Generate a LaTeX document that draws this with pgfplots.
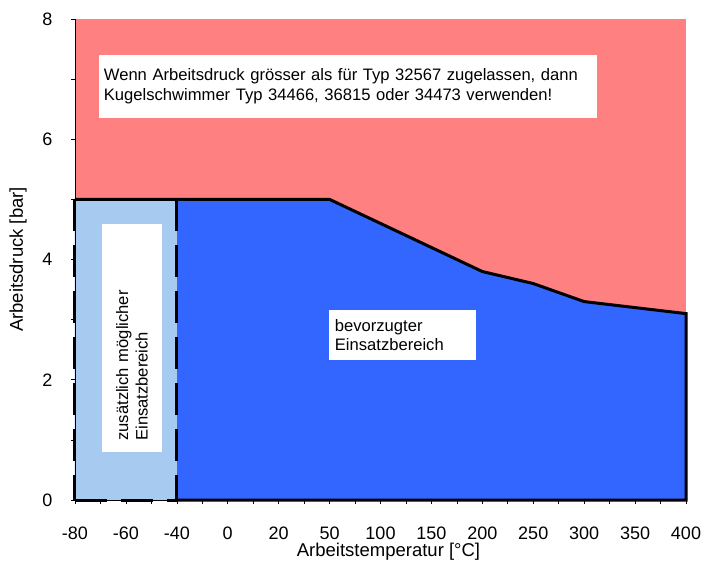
\documentclass[border=0pt]{standalone}
\usepackage{pgfplots}
\pgfplotsset{compat=1.18}
\usepackage{fontspec}
\setmainfont{Liberation Sans}
\definecolor{myred}{HTML}{FF8080}
\definecolor{myblue}{HTML}{3366FF}
\definecolor{mylight}{HTML}{A6CAF0}
\newcommand\myfs{\fontsize{16.6bp}{19.5bp}\selectfont}
\newcommand\tickfs{\fontsize{18bp}{21bp}\selectfont}
\newcommand\labfs{\fontsize{18.5bp}{21bp}\selectfont}
\begin{document}
\begin{tikzpicture}[font=\myfs]
\begin{axis}[
  scale only axis, width=611bp, height=481bp,
  xmin=0, xmax=12, ymin=0, ymax=8,
  axis lines*=left,
  axis on top,
  clip=false,
  xtick={0,...,12},
  xticklabels={-80,-60,-40,0,20,50,100,150,200,250,300,350,400},
  minor x tick num=1,
  ytick={0,2,4,6,8}, minor y tick num=1,
  tick align=outside, major tick length=4bp, minor tick length=4bp,
  tick style={black, line width=0.6bp},
  axis line style={black, line width=0.8bp},
  /pgf/number format/assume math mode=true,
  tick label style={font=\tickfs},
  xticklabel style={yshift=-19bp},
  yticklabel style={xshift=-15bp},
  xlabel={Arbeitstemperatur [°C]},
  ylabel={Arbeitsdruck [bar]},
  every axis x label/.style={at={(axis description cs:0.5,0)}, anchor=center, yshift=-52bp, xshift=8bp, font=\labfs},
  every axis y label/.style={at={(axis description cs:0,0.5)}, anchor=center, xshift=-57bp, rotate=90, font=\labfs},
]
\addplot[fill=myred, draw=none] coordinates {(0,0) (0,8) (12,8) (12,0)} -- cycle;
\addplot[fill=myblue, draw=none] coordinates {(0,0) (0,5) (5,5) (6,4.6) (7,4.2) (8,3.8) (9,3.6) (10,3.3) (11,3.2) (12,3.1) (12,0)} -- cycle;
\addplot[fill=mylight, draw=none] coordinates {(0,0) (0,5) (2,5) (2,0)} -- cycle;
\addplot[black, line width=3bp, dash pattern=on 32bp off 14bp] coordinates {(0,5) (0,0)};
\addplot[black, line width=3bp, dash pattern=on 32bp off 14bp] coordinates {(0,0) (2,0)};
\addplot[black, line width=3bp, dash pattern=on 32bp off 14bp] coordinates {(2,5) (2,0)};
\addplot[black, line width=3bp] coordinates {(0,5) (5,5) (6,4.6) (7,4.2) (8,3.8) (9,3.6) (10,3.3) (11,3.2) (12,3.1) (12,0) (2,0)};
\node[fill=white, text width=488bp, inner xsep=5bp, inner ysep=0bp, minimum height=63bp, align=left] at (axis cs:5.36,6.88) {Wenn Arbeitsdruck grösser als für Typ 32567 zugelassen, dann\\Kugelschwimmer Typ 34466, 36815 oder 34473 verwenden!};
\node[fill=white, text width=135bp, inner xsep=6bp, inner ysep=0bp, minimum height=50bp, align=left] at (axis cs:6.43,2.745) {bevorzugter\\Einsatzbereich};
\node[fill=white, rotate=90, text width=206bp, inner xsep=11bp, inner ysep=0bp, minimum height=60bp, align=left] at (axis cs:1.12,2.70) {zusätzlich möglicher\\Einsatzbereich};
\coordinate (sw) at (rel axis cs:0,0);
\coordinate (ne) at (rel axis cs:1,1);
\end{axis}
\pgfresetboundingbox
\path ([shift={(-75bp,-64bp)}]sw) rectangle ([shift={(15bp,19bp)}]ne);
\end{tikzpicture}
\end{document}
